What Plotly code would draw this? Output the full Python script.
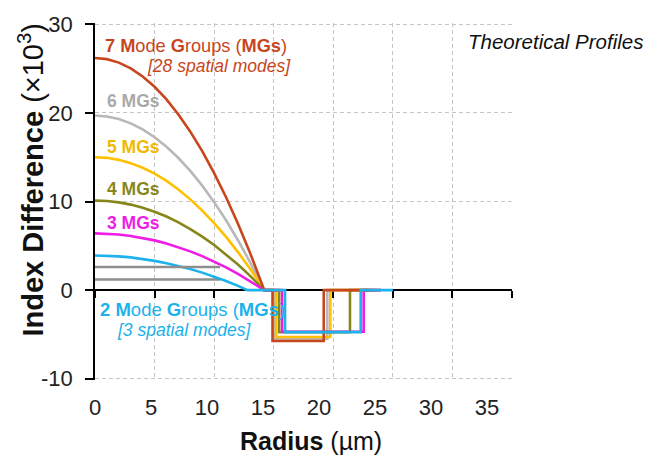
import plotly.graph_objects as go

# ---------------- data ----------------
# radius (um) and index difference (x10^3) for each profile
mg7_r  = [0, 1, 2, 3, 4, 5, 6, 7, 8, 9, 10, 11, 12, 13, 14, 14.2, 14.9, 14.9, 19.2, 19.2, 24.0]
mg7_dn = [26.2, 26.07, 25.68, 25.03, 24.12, 22.95, 21.52, 19.83, 17.88, 15.68, 13.21, 10.48, 7.49, 4.24, 0.73, 0, 0, -5.75, -5.75, 0, 0]

mg6_r  = [0, 1, 2, 3, 4, 5, 6, 7, 8, 9, 10, 11, 12, 13, 14, 14.2, 15.05, 15.05, 19.5, 19.5, 23.0]
mg6_dn = [19.7, 19.6, 19.31, 18.82, 18.14, 17.26, 16.18, 14.91, 13.45, 11.79, 9.93, 7.88, 5.63, 3.19, 0.55, 0, 0, -5.5, -5.5, 0, 0]

mg5_r  = [0, 1, 2, 3, 4, 5, 6, 7, 8, 9, 10, 11, 12, 13, 14, 14.2, 15.2, 15.2, 19.75, 19.75, 23.0]
mg5_dn = [15.0, 14.93, 14.7, 14.33, 13.81, 13.14, 12.32, 11.35, 10.24, 8.97, 7.56, 6.0, 4.29, 2.43, 0.42, 0, 0, -5.3, -5.3, 0, 0]

mg4_r  = [0, 1, 2, 3, 4, 5, 6, 7, 8, 9, 10, 11, 12, 13, 14, 14.2, 15.45, 15.45, 21.4, 21.4, 23.5]
mg4_dn = [10.1, 10.05, 9.9, 9.65, 9.3, 8.85, 8.3, 7.65, 6.89, 6.04, 5.09, 4.04, 2.89, 1.64, 0.28, 0, 0, -4.75, -4.75, 0, 0]

mg3_r  = [0, 1, 2, 3, 4, 5, 6, 7, 8, 9, 10, 11, 12, 13, 14, 14.2, 15.7, 15.7, 22.55, 22.55, 24.0]
mg3_dn = [6.4, 6.37, 6.27, 6.11, 5.89, 5.61, 5.26, 4.84, 4.37, 3.83, 3.23, 2.56, 1.83, 1.04, 0.18, 0, 0, -4.7, -4.7, 0, 0]

mg2_r  = [0, 1, 2, 3, 4, 5, 6, 7, 8, 9, 10, 11, 12, 12.8, 15.95, 15.95, 22.3, 22.3, 25.0]
mg2_dn = [3.9, 3.88, 3.8, 3.69, 3.52, 3.3, 3.04, 2.73, 2.38, 1.97, 1.52, 1.02, 0.47, 0, 0, -4.75, -4.75, 0, 0]

ref_a_r  = [0, 10.5]
ref_a_dn = [2.6, 2.6]
ref_b_r  = [0, 10.5]
ref_b_dn = [1.2, 1.2]

x_ticks = [0, 5, 10, 15, 20, 25, 30, 35]
y_ticks = [-10, 0, 10, 20, 30]

# ---------------- styling ----------------
FONT = "Liberation Sans, Arial, sans-serif"
C_RED = "#C8461E"
C_G6 = "#B8B8B8"
C_G6T = "#A9A9A9"
C_YEL = "#FFC000"
C_YELT = "#F2B800"
C_OLI = "#86861A"
C_MAG = "#EE1CE6"
C_BLU = "#1CB2EC"
C_GRY = "#8E8E8E"
LW = 2.6

Y_RANGE = [-10.15, 30.15]
X_RANGE = [0, 35]
# tick labels in the reference sit on a slightly tighter spacing than the grid
LABEL_RANGE = [0, 35 * 417 / 392]

fig = go.Figure()

def add(r, dn, color, xaxis="x"):
    fig.add_trace(go.Scatter(x=r, y=dn, mode="lines", xaxis=xaxis,
                             line=dict(color=color, width=LW),
                             hoverinfo="skip", showlegend=False))

add(ref_a_r, ref_a_dn, C_GRY, "x2")
add(ref_b_r, ref_b_dn, C_GRY)
add(mg6_r, mg6_dn, C_G6)
add(mg5_r, mg5_dn, C_YEL)
add(mg4_r, mg4_dn, C_OLI)
add(mg3_r, mg3_dn, C_MAG)
add(mg7_r, mg7_dn, C_RED)
add(mg2_r, mg2_dn, C_BLU)
# empty trace so the label-only axis is rendered
fig.add_trace(go.Scatter(x=[], y=[], xaxis="x3", mode="lines",
                         hoverinfo="skip", showlegend=False))

grid = dict(showgrid=True, gridcolor="#C4C4C4", gridwidth=1, griddash="4px,3px")
zero_pos = (0 - Y_RANGE[0]) / (Y_RANGE[1] - Y_RANGE[0])

fig.update_layout(
    width=651, height=458,
    margin=dict(l=95, r=139, t=20, b=78),
    paper_bgcolor="white", plot_bgcolor="white",
    font=dict(family=FONT, color="#222222"),
    xaxis=dict(range=X_RANGE, tickvals=x_ticks, showticklabels=False,
               showline=False, zeroline=False, ticks="", **grid),
    xaxis2=dict(matches="x", overlaying="x", anchor="free", position=zero_pos,
                side="bottom", range=X_RANGE, tickvals=x_ticks,
                showticklabels=False, showgrid=False, zeroline=False,
                showline=True, linecolor="black", linewidth=1.6,
                ticks="outside", ticklen=7, tickwidth=1.6, tickcolor="black",
                layer="below traces"),
    xaxis3=dict(overlaying="x", anchor="y", side="bottom", range=LABEL_RANGE,
                tickvals=x_ticks, ticktext=[str(v) for v in x_ticks],
                showgrid=False, zeroline=False, showline=False, ticks="",
                tickfont=dict(size=22, color="#222222"), ticklabelstandoff=12),
    yaxis=dict(range=Y_RANGE, tickvals=y_ticks, ticktext=[str(v) for v in y_ticks],
               showline=True, linecolor="black", linewidth=1.6,
               ticks="outside", ticklen=8, tickwidth=1.6, tickcolor="black",
               zeroline=False, tickfont=dict(size=22, color="#222222"),
               ticklabelstandoff=8, layer="below traces",
               **grid),
)

ann = []
def label(x, y, text, color, size=17.5, xref="x", yref="y", angle=0, xanchor="left"):
    ann.append(dict(x=x, y=y, xref=xref, yref=yref, text=text, showarrow=False,
                    xanchor=xanchor, yanchor="middle", textangle=angle,
                    font=dict(family=FONT, size=size, color=color)))

label(0.67, 27.55, "<b>7 M</b>ode <b>G</b>roups (<b>MGs</b>)", C_RED, size=18.2)
label(4.2, 25.3, "<i>[28 spatial modes]</i>", C_RED)
label(0.84, 21.4, "<b>6 MGs</b>", C_G6T)
label(0.84, 16.2, "<b>5 MGs</b>", C_YELT)
label(0.84, 11.4, "<b>4 MGs</b>", C_OLI)
label(0.84, 7.55, "<b>3 MGs</b>", C_MAG)
label(0.25, -2.2, "<b>2 M</b>ode <b>G</b>roups (<b>MGs</b>)", C_BLU, size=18.5)
label(1.68, -4.55, "<i>[3 spatial modes]</i>", C_BLU)
label(31.15, 28.1, "<i>Theoretical Profiles</i>", "#111111", size=20.5)

# axis titles
label(-0.153, 12.5, "<b>Index Difference</b> (×10<sup>3</sup>)", "#111111", size=29,
      xref="paper", angle=-90, xanchor="center")
ann.append(dict(x=18.1, y=-0.172, xref="x", yref="paper",
                text="<b>Radius</b> (µm)", showarrow=False,
                xanchor="center", yanchor="middle",
                font=dict(family=FONT, size=25, color="#111111")))

fig.update_layout(annotations=ann)
fig.write_html("out.html")
